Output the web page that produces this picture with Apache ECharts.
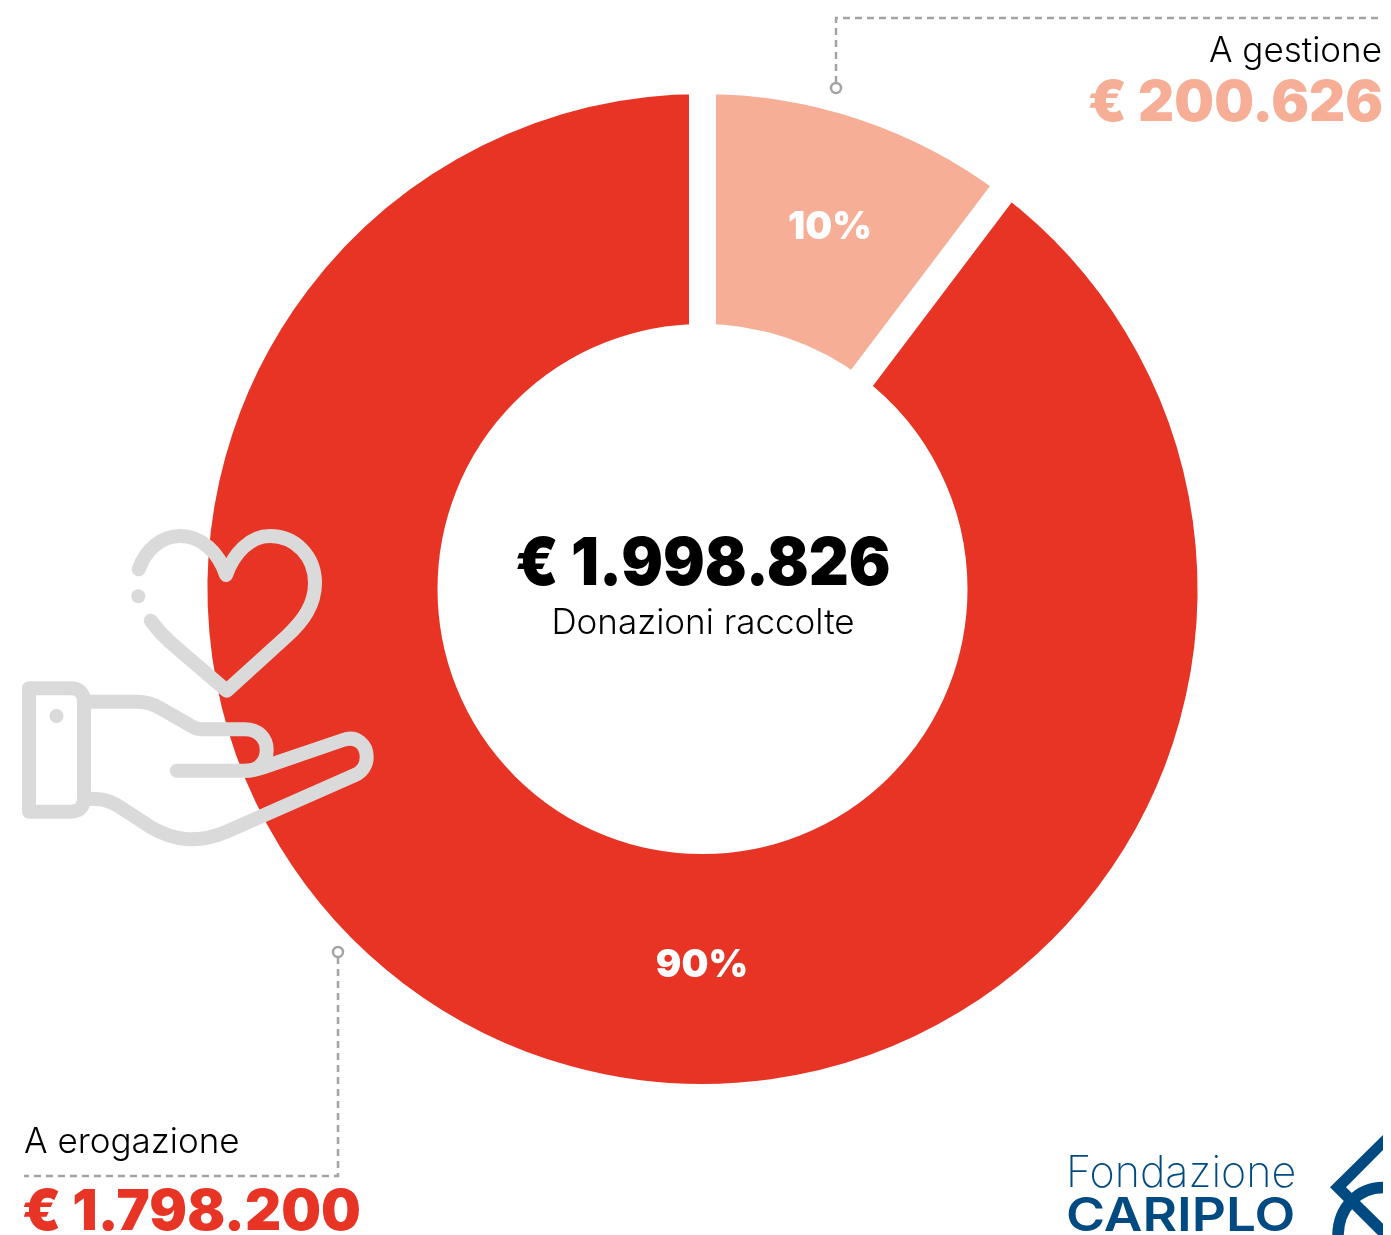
<!DOCTYPE html>
<html><head><meta charset="utf-8">
<style>html,body{margin:0;padding:0;background:#fff}#c{width:1391px;height:1235px}</style>
<script src="https://cdn.jsdelivr.net/npm/echarts@6/dist/echarts.min.js"></script>
</head><body><div id="c"></div>
<script>
const categories = ['A gestione', 'A erogazione'];
const amountLabels = ['€ 200.626', '€ 1.798.200'];
const totalLabel = '€ 1.998.826';
const totalCaption = 'Donazioni raccolte';
const sliceShares = [10.3, 89.7];
const percentLabels = ['10%', '90%'];
const RED = '#e83425', PEACH = '#f6ae96', GREY = '#a3a3a3', ICON = '#dadada', BLUE = '#004a82';
const HEAVY = 'Inter', LIGHT = 'Inter';

const chart = echarts.init(document.getElementById('c'), null, {renderer: 'canvas'});
const text = (x, y, t, size, weight, fill, align, family, sx, sy) => ({
  type: 'text', z: 120, silent: true, x, y, scaleX: sx || 1, scaleY: sy || 1,
  style: {text: t, fontSize: size, fontWeight: weight, fontFamily: family, fill, align: align, verticalAlign: 'middle'}
});
let shapeCount = 0;
const stroke = (d, color, w, dash) => {
  const name = 'drawnPath' + (shapeCount++);
  echarts.graphic.registerShape(name, echarts.graphic.extendPath(d, {}));
  return {
    type: name, z: 110, silent: true,
    style: {fill: null, stroke: color, lineWidth: w, lineDash: dash || null, lineCap: dash ? 'butt' : 'round', lineJoin: dash ? 'miter' : 'round'}
  };
};
const ring = (x, y) => ({type: 'circle', z: 110, silent: true, shape: {cx: x, cy: y, r: 5},
  style: {fill: '#fff', stroke: GREY, lineWidth: 2.5}});
const dot = (x, y, r) => ({type: 'circle', z: 110, silent: true, shape: {cx: x, cy: y, r}, style: {fill: ICON}});

chart.setOption({
  animation: false,
  backgroundColor: '#fff',
  series: [{
    type: 'pie', silent: true, center: [702.5, 589], radius: [251.5, 508.5],
    startAngle: 90, clockwise: true, avoidLabelOverlap: false,
    itemStyle: {borderColor: '#fff', borderWidth: 27},
    labelLine: {show: false},
    label: {show: true, position: 'inside', color: '#fff', fontFamily: HEAVY, fontWeight: 900, fontSize: 38,
      formatter: p => percentLabels[p.dataIndex]},
    labelLayout: p => p.dataIndex === 0 ? {x: 830, y: 228, align: 'center', verticalAlign: 'middle'}
                                        : {x: 702, y: 966, align: 'center', verticalAlign: 'middle'},
    data: categories.map((name, i) => ({name, value: sliceShares[i], itemStyle: {color: i === 0 ? PEACH : RED}}))
  }],
  graphic: {elements: [
    stroke('M836 83 V18 H1383', GREY, 2.5, [7, 5]),
    ring(836, 88),
    stroke('M338 957 V1176 H24', GREY, 2.5, [7, 5]),
    ring(338, 952),
    text(1382, 51, categories[0], 35, 300, '#000', 'right', LIGHT),
    text(1383, 104, amountLabels[0], 56, 900, PEACH, 'right', HEAVY),
    text(24, 1142, categories[1], 35, 300, '#000', 'left', LIGHT),
    text(22, 1213, amountLabels[1], 56, 900, RED, 'left', HEAVY),
    text(703, 565, totalLabel, 62, 900, '#000', 'center', HEAVY, 1, 1.07),
    text(703, 623, totalCaption, 35, 300, '#000', 'center', LIGHT),
    stroke('M138.7 569.3 C146 549 162 536 180 536 C202 536 219 553 226 575 C234 553 250 536 270 536 C296 536 315 557 315 583 C315 605 303 621 287 636 L226.7 690.7 L170 642 C161 634 156 628 150.7 620.7', ICON, 14),
    dot(138.3, 596.3, 7),
    stroke('M29 688.3 H70 Q84 688.3 84 702 V798 Q84 811.7 70 811.7 H29 Z', ICON, 14),
    dot(56.5, 716, 7),
    stroke('M84 701.7 H136.7 C146 701.7 153 704 160 708 L193 727 C196 728.7 199 729.3 202 729.3 H245 C258 729.3 266.7 738 266.7 750 C266.7 762 258 770.7 246.7 770.7 H176.7', ICON, 14),
    stroke('M246 770.7 C252 770.7 258 769 264 767 L343 740 C357 735 366.7 745 366.7 757 C366.7 765 362 772 355 775 L226.7 831.7 C200 843 176 842 150 826.7 L116.7 805 C107 799 98 798.7 84 798.7', ICON, 14),
    text(1066, 1174, 'Fondazione', 43, 200, BLUE, 'left', LIGHT),
    text(1066, 1217, 'CARIPLO', 47, 600, BLUE, 'left', LIGHT, 1.13, 1),
    {type: 'polygon', z: 110, silent: true, shape: {points: [[1383,1135],[1330,1187.3],[1383,1240],[1383,1223.7],[1346,1187.3],[1383,1150]]}, style: {fill: BLUE}},
    stroke('M1383 1187.5 C1358 1187.5 1338 1208 1338 1236', BLUE, 11.5, [2000])
  ]}
});
</script></body></html>
